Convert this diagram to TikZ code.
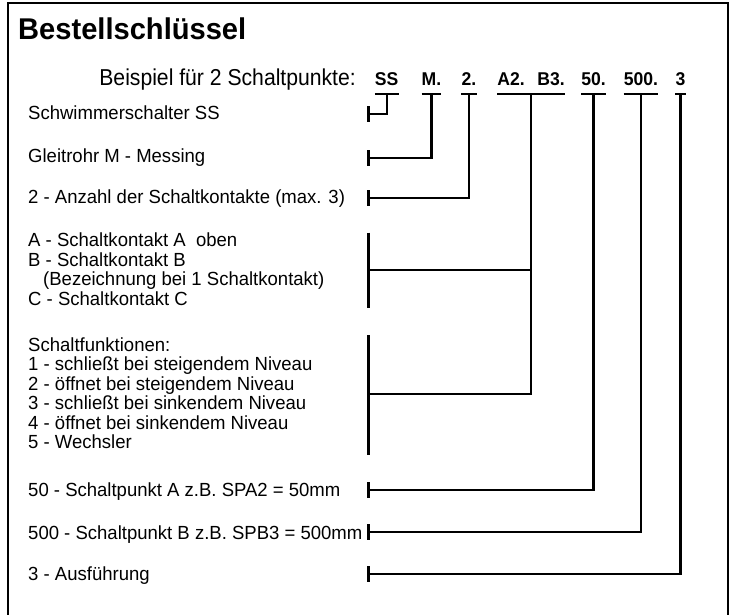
\documentclass[tikz,border=0pt]{standalone}
\usepackage{fontspec}
\setmainfont{Liberation Sans}
\newfontfamily\bodyf[FakeStretch=0.975]{Liberation Sans}
\newfontfamily\beif[FakeStretch=0.92]{Liberation Sans}
\newfontfamily\codef[FakeStretch=0.95]{Liberation Sans}
\newfontfamily\titlef[FakeStretch=0.97]{Liberation Sans}
\usetikzlibrary{calc}
\begin{document}
\begin{tikzpicture}[x=1pt,y=-1pt,
  body/.style={anchor=base west, inner sep=0pt, font=\bodyf\fontsize{19}{20}\selectfont},
  code/.style={anchor=base, inner sep=0pt, font=\codef\bfseries\fontsize{18.5}{20}\selectfont},
  conn/.style={line width=2.3pt},
  frame/.style={line width=1.3pt}]
\useasboundingbox (0,0) rectangle (734,615);
% frame
\draw[frame] (8,620) -- (8,3) -- (728,3) -- (728,620);
% title
\node[anchor=base west, inner sep=0pt, font=\titlef\bfseries\fontsize{30}{30}\selectfont] (title) at (18,40) {Bestellschlüssel};
\node[anchor=base east, inner sep=0pt, font=\beif\fontsize{23}{24}\selectfont] (bsp) at (356,86) {Beispiel für 2 Schaltpunkte:};
% code labels
\node[code] (kSS) at (386.7,86) {SS};
\node[code] (kM) at (431.5,86) {M.};
\node[code] (k2) at (469,86) {2.};
\node[code] (kA) at (511,86) {A2.};
\node[code] (kB) at (551,86) {B3.};
\node[code] (k50) at (593.5,86) {50.};
\node[code] (k500) at (641,86) {500.};
\node[code] (k3) at (680.5,86) {3};
% underlines
\foreach \k in {kSS,kM,k2,k50,k500,k3}
  \draw[conn] ([yshift=-8pt]\k.base west) -- ([yshift=-8pt]\k.base east);
\draw[conn] ([yshift=-8pt]kA.base west) -- ([yshift=-8pt]kB.base east);
% descriptions
\node[body] (dSS) at (28,120) {Schwimmerschalter SS};
\node[body] (dM) at (28,163) {Gleitrohr M - Messing};
\node[body] (d2) at (28,204) {2 - Anzahl der Schaltkontakte (max. 3)};
\node[body] (dA) at (28,246.5) {A - Schaltkontakt A\ \ oben};
\node[body] (dB) at (28,266) {B - Schaltkontakt B};
\node[body] (dBz) at (43,285.5) {(Bezeichnung bei 1 Schaltkontakt)};
\node[body] (dC) at (28,305) {C - Schaltkontakt C};
\node[body] (dF) at (28,351) {Schaltfunktionen:};
\node[body] (dF1) at (28,370.5) {1 - schließt bei steigendem Niveau};
\node[body] (dF2) at (28,390) {2 - öffnet bei steigendem Niveau};
\node[body] (dF3) at (28,409.5) {3 - schließt bei sinkendem Niveau};
\node[body] (dF4) at (28,429) {4 - öffnet bei sinkendem Niveau};
\node[body] (dF5) at (28,448.5) {5 - Wechsler};
\node[body] (d50) at (28,496.5) {50 - Schaltpunkt A z.B. SPA2 = 50mm};
\node[body] (d500) at (28,539) {500 - Schaltpunkt B z.B. SPB3 = 500mm};
\node[body] (d3) at (28,580.5) {3 - Ausführung};
% tick / junction coordinates
\coordinate (tSS) at (368.5,114.3);
\coordinate (tM) at (368.5,158.3);
\coordinate (t2) at (368.5,198.3);
\coordinate (tABC) at (368.5,270);
\coordinate (tABCtop) at (368.5,232.7);
\coordinate (tABCbot) at (368.5,308.3);
\coordinate (tF) at (368.5,394);
\coordinate (tFtop) at (368.5,335);
\coordinate (tFbot) at (368.5,455);
\coordinate (t50) at (368.5,490);
\coordinate (t500) at (368.5,532);
\coordinate (t3) at (368.5,574);
\coordinate (jAB) at ($(kA.base west)!.5!(kB.base east)+(0,8)$);
% connectors
\draw[conn] ([yshift=-8pt]kSS.base) |- (tSS);
\draw[conn] ([yshift=-8pt]kM.base) |- (tM);
\draw[conn] ([yshift=-8pt]k2.base) |- (t2);
\draw[conn] (jAB) |- (tF);
\draw[conn] (jAB |- tABC) -- (tABC);
\draw[conn] ([yshift=-8pt]k50.base) |- (t50);
\draw[conn] ([yshift=-8pt]k500.base) |- (t500);
\draw[conn] ([yshift=-8pt]k3.base) |- (t3);
% ticks and brackets
\foreach \t in {tSS,tM,t2,t50,t500,t3}
  \draw[conn] ([yshift=8pt]\t) -- ([yshift=-8pt]\t);
\draw[conn] (tABCtop) -- (tABCbot);
\draw[conn] (tFtop) -- (tFbot);
\end{tikzpicture}
\end{document}
